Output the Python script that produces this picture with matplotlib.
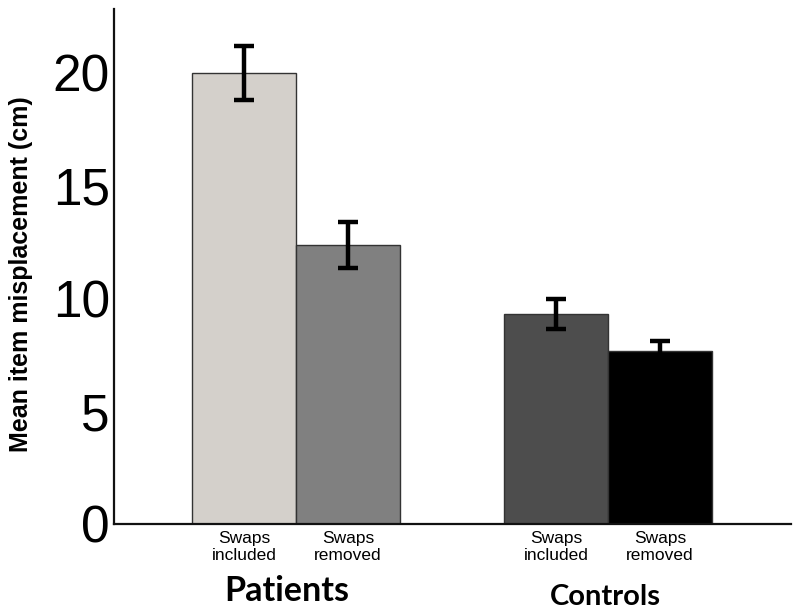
import matplotlib.pyplot as plt
import numpy as np

# values
groups = ["Patients", "Controls"]
conditions = ["Swaps\nincluded", "Swaps\nremoved", "Swaps\nincluded", "Swaps\nremoved"]
means = [19.95, 12.35, 9.3, 7.65]
errors = [1.2, 1.0, 0.65, 0.45]
bar_colors = ["#d4d0cb", "#808080", "#4d4d4d", "#000000"]

positions = np.array([0, 1, 3, 4])

fig = plt.figure(figsize=(8, 6.11), dpi=100)
ax = fig.add_axes([0.1425, 0.1424, 0.8463, 0.8429])

ax.bar(positions, means, width=1.0, color=bar_colors,
       edgecolor="#333333", linewidth=1.0, zorder=2)
ax.errorbar(positions, means, yerr=errors, fmt="none", ecolor="black",
            elinewidth=3.2, capsize=7, capthick=3.2, zorder=3)

ax.set_xlim(-1.25, 5.26)
ax.set_ylim(0, 22.8)
ax.set_yticks([0, 5, 10, 15, 20])
ax.tick_params(axis="y", length=0, labelsize=37, pad=3)
for lab in ax.get_yticklabels():
    lab.set_family("Liberation Sans")

ax.set_xticks(positions)
ax.set_xticklabels(conditions, fontsize=12.5, family="Liberation Sans",
                   linespacing=1.2)
ax.tick_params(axis="x", length=0, pad=5)

for side in ["top", "right"]:
    ax.spines[side].set_visible(False)
for side in ["left", "bottom"]:
    ax.spines[side].set_linewidth(1.6)
    ax.spines[side].set_color("#111111")

ax.set_ylabel("Mean item misplacement (cm)", fontsize=18, fontweight="bold",
              family="Liberation Sans")
ax.yaxis.set_label_coords(-0.12, 0.486)

# group labels below the condition labels
fig.text(287 / 800, 1 - 591 / 611, groups[0], ha="center", va="center",
         fontsize=24.5, fontweight="bold", family="Lato")
fig.text(605 / 800, 1 - 597 / 611, groups[1], ha="center", va="center",
         fontsize=21, fontweight="bold", family="Lato")

fig.savefig("out.png", dpi=100)
